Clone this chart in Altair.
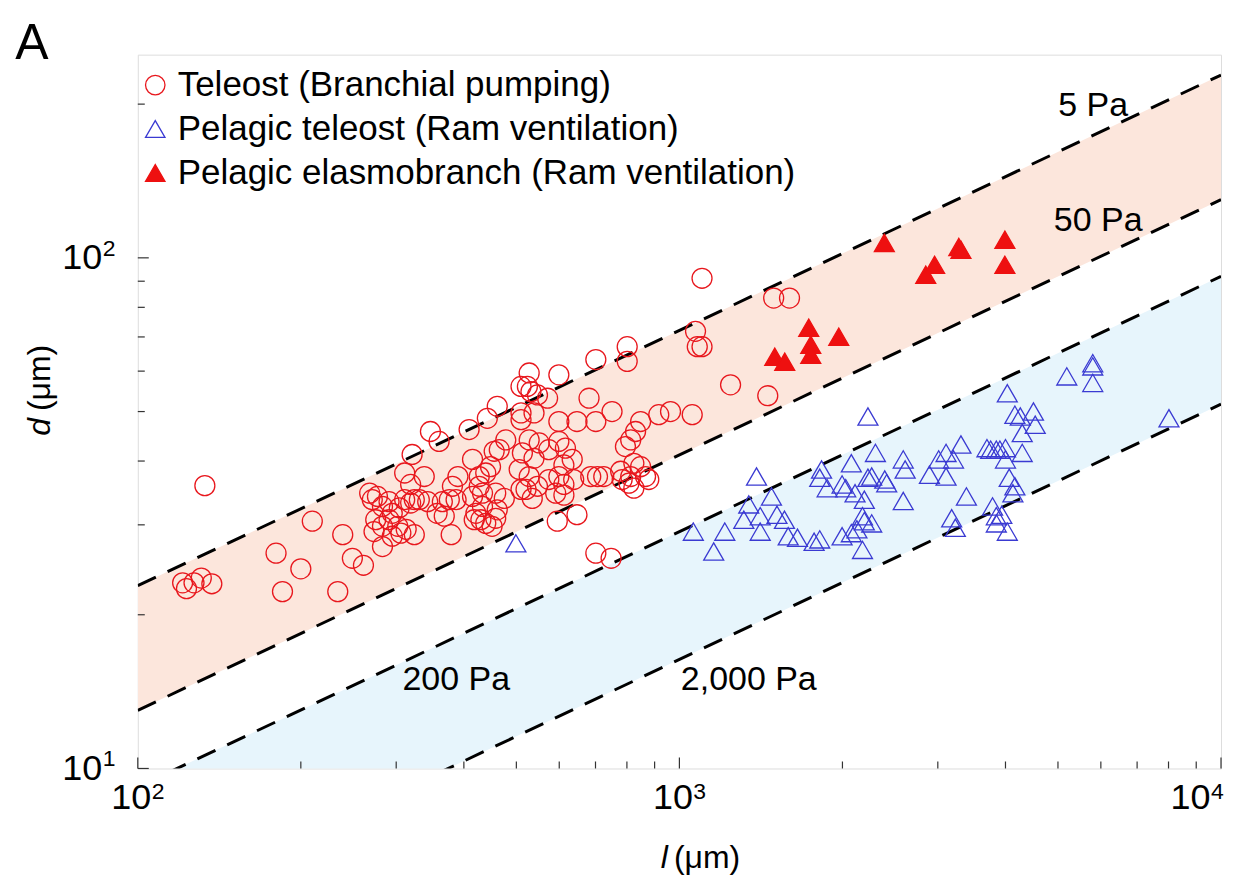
import altair as alt
import pandas as pd

# ---------------- data ----------------
# Teleost (Branchial pumping): open red circles  (l, d in micrometres)
teleost_l = [133, 121, 123, 127, 131, 137, 210, 239, 180, 200, 185, 234, 249, 261,
             268, 271, 277, 283, 291, 295, 304, 311, 319, 324, 275, 283, 291, 302,
             313, 324, 273, 283, 295, 306, 311, 321, 338, 319, 331, 343, 347, 360,
             409, 442, 461, 357, 368, 379, 365, 376, 387, 390, 381, 415, 427, 439,
             427, 433, 448, 415, 421, 430, 439, 451, 458, 418, 433, 458,
             1101, 1493, 1597, 1071, 1079, 1101, 1243, 1456, 801, 801, 701, 599,
             528, 510, 524, 532, 547, 571, 681, 510, 539, 510, 599, 647, 701, 751,
             848, 916, 963, 1056, 830, 813, 795, 478, 465, 455, 528, 551, 513, 539,
             574, 599, 616, 634, 612, 506, 528, 547, 521, 535, 510, 574, 599, 612,
             638, 591, 612, 686, 706, 725, 779, 784, 813, 824, 848, 866, 878, 824,
             807, 595, 647, 701, 748, 475, 461]
teleost_d = [35.8, 23.1, 22.5, 23.1, 23.6, 23.0, 30.5, 28.7, 26.4, 24.6, 22.2, 22.2, 25.8, 25.0,
             34.6, 33.6, 34.1, 32.6, 33.3, 31.6, 32.4, 33.6, 33.1, 33.6, 30.7, 29.8, 30.7, 29.8,
             29.4, 28.7, 29.1, 27.2, 28.5, 28.9, 37.9, 41.2, 37.3, 36.0, 33.6, 33.3, 45.7, 43.7,
             46.1, 48.5, 51.2, 31.6, 31.2, 28.7, 33.3, 33.6, 33.6, 37.3, 35.7, 40.3, 37.3, 37.9,
             35.7, 34.6, 39.0, 34.1, 31.6, 30.7, 30.2, 29.8, 30.9, 30.7, 32.6, 34.6,
             91.2, 83.4, 83.4, 71.8, 67.0, 67.0, 56.4, 53.7, 67.0, 62.7, 63.2, 59.0,
             59.5, 56.0, 56.0, 54.7, 53.9, 53.1, 53.1, 49.7, 49.7, 48.2, 47.8, 47.8, 47.8, 50.0,
             47.8, 49.3, 50.0, 49.3, 45.7, 44.0, 42.7, 44.0, 42.1, 41.8, 44.0, 43.4, 41.5, 40.5,
             42.1, 43.7, 42.4, 40.3, 39.3, 38.5, 37.3, 35.7, 35.2, 33.8, 35.2, 36.8, 37.3, 36.0,
             36.8, 34.6, 34.3, 37.3, 37.3, 37.3, 38.2, 36.8, 37.3, 39.6, 39.0, 37.3, 36.8, 35.4,
             36.2, 30.5, 31.4, 26.4, 25.8, 33.8, 32.1]

# Pelagic teleost (Ram ventilation): open blue triangles
pelagic_l = [1061, 1213, 1157, 1388, 1479, 1410, 1514, 1563, 1410, 1588, 1652, 1773, 1816,
             1830, 1816, 1874, 1997, 2028, 2077, 2110, 2195, 2229, 2265, 2301, 2394, 2414,
             2178, 2195, 2265, 1997, 2077, 2127, 2178, 2229, 2590, 2611, 2590, 2895, 3011,
             3107, 3107, 3207, 3310, 3388, 3182, 3232, 3697, 3756, 3847, 3906, 4000, 4000,
             4295, 4031, 4163, 4260, 4505, 4539, 4295, 4064, 4163, 4128, 3786, 3847, 3938,
             3847, 4031, 5191, 5797, 5797, 5797, 8015, 499, 1343, 1315]
pelagic_d = [29.1, 29.1, 26.6, 37.3, 34.1, 31.2, 31.4, 30.7, 29.1, 28.5, 28.3, 27.8, 28.1,
             38.5, 37.1, 35.4, 36.0, 35.4, 39.6, 34.6, 33.6, 37.1, 37.3, 41.5, 36.8, 36.2,
             31.2, 30.5, 30.2, 28.5, 28.9, 29.4, 26.8, 48.9, 40.3, 38.5, 33.4, 37.6, 40.3,
             41.5, 37.3, 40.3, 43.1, 34.1, 30.9, 29.6, 42.4, 42.1, 42.1, 42.1, 42.4, 40.3,
             41.5, 54.3, 49.3, 48.9, 50.0, 47.1, 45.4, 37.1, 35.7, 34.6, 32.6, 31.2, 31.4,
             30.2, 29.1, 58.6, 62.2, 61.3, 56.9, 48.5, 27.6, 32.9, 30.7]

# Pelagic elasmobranch (Ram ventilation): filled red triangles
elasmo_l = [2390, 2850, 2960, 3280, 3310, 3990, 3990, 1500, 1565, 1733, 1748, 1748, 1969]
elasmo_d = [107, 92.7, 96.9, 105, 103.7, 108.5, 96.9, 64.0, 62.6, 73.0, 67.6, 64.6, 70.1]

series_names = ["Teleost (Branchial pumping)",
                "Pelagic teleost (Ram ventilation)",
                "Pelagic elasmobranch (Ram ventilation)"]

# iso-stress guide lines: d at l = 100 and at l = 10^4
guide_names = ["5 Pa", "50 Pa", "200 Pa", "2,000 Pa"]
guide_l_ends = [100, 10000]
guide_d_start = [22.8, 13.0, 9.2, 5.17]
guide_d_end = [228, 130, 92, 51.7]

x_major = [100, 1000, 10000]
x_exp = ["2", "3", "4"]
x_minor = [200, 300, 400, 500, 600, 700, 800, 900,
           2000, 3000, 4000, 5000, 6000, 7000, 8000, 9000]
y_major = [10, 100]
y_exp = ["1", "2"]
y_minor = [20, 30, 40, 50, 60, 70, 80, 90, 200]

# ---------------- tables ----------------
pts = pd.DataFrame({
    "l": teleost_l + pelagic_l + elasmo_l,
    "d": teleost_d + pelagic_d + elasmo_d,
    "series": [series_names[0]] * len(teleost_l)
              + [series_names[1]] * len(pelagic_l)
              + [series_names[2]] * len(elasmo_l),
})

guides = pd.DataFrame({
    "name": [n for n in guide_names for _ in guide_l_ends],
    "l": guide_l_ends * len(guide_names),
    "d": [v for pair in zip(guide_d_start, guide_d_end) for v in pair],
})

bands = pd.DataFrame({
    "band": ["warm", "warm", "cool", "cool"],
    "l": guide_l_ends * 2,
    "upper": [guide_d_start[0], guide_d_end[0], guide_d_start[2], guide_d_end[2]],
    "lower": [guide_d_start[1], guide_d_end[1], guide_d_start[3], guide_d_end[3]],
})

W, H = 1085, 715
FONT = "Liberation Sans"
TICK_FS = 36
xs = alt.Scale(type="log", domain=[100, 10000], nice=False)
ys = alt.Scale(type="log", domain=[10, 250], nice=False)

X_AX = alt.Axis(values=x_major, labelExpr="'10'", ticks=False, tickSize=0,
                domain=False, grid=False, labelFontSize=TICK_FS, labelFont=FONT,
                labelColor="black", labelPadding=12, labelAlign="right",
                labelOffset=alt.condition("datum.value >= 10000", alt.value(-11), alt.value(13)),
                labelOverlap=False, labelBound=False, labelFlush=False, title=None)
Y_AX = alt.Axis(values=y_major, labelExpr="'10'", ticks=False, tickSize=0,
                domain=False, grid=False, labelFontSize=TICK_FS, labelFont=FONT,
                labelColor="black", labelPadding=36, labelOverlap=False,
                labelBound=False, labelFlush=False, title=None)

def X(field):
    return alt.X(field, scale=xs, axis=X_AX)

def Y(field):
    return alt.Y(field, scale=ys, axis=Y_AX)

band_layer = alt.Chart(bands).mark_area(clip=True, opacity=1).encode(
    x=X("l:Q"),
    y=Y("upper:Q"),
    y2="lower:Q",
    color=alt.Color("band:N", scale=alt.Scale(domain=["warm", "cool"],
                                              range=["#fce6dc", "#e7f5fc"]), legend=None),
    detail="band:N",
)

guide_layer = alt.Chart(guides).mark_line(
    clip=True, color="black", strokeWidth=3, strokeDash=[20, 13]
).encode(
    x=X("l:Q"),
    y=Y("d:Q"),
    detail="name:N",
)

leg = alt.Legend(title=None, orient="none", legendX=0, legendY=13,
                 labelFontSize=35, labelFont=FONT, labelColor="black",
                 symbolSize=380, symbolStrokeWidth=1.3, rowPadding=8,
                 labelOffset=5, padding=0, labelLimit=900)

point_layer = alt.Chart(pts).mark_point(size=400, strokeWidth=1.3, opacity=1, fillOpacity=1).encode(
    x=X("l:Q"),
    y=Y("d:Q"),
    shape=alt.Shape("series:N", scale=alt.Scale(domain=series_names,
                    range=["circle", "triangle-up", "triangle-up"]), legend=leg),
    stroke=alt.Stroke("series:N", scale=alt.Scale(domain=series_names,
                      range=["#e8171d", "#3a3ad2", "#ee1010"]), legend=leg),
    fill=alt.Fill("series:N", scale=alt.Scale(domain=series_names,
                  range=["transparent", "transparent", "#ee1010"]), legend=leg),
    order=alt.Order("series:N", sort="descending"),
)

# inward tick marks
xt_major = alt.Chart(pd.DataFrame({"l": x_major})).mark_rule(color="#333", strokeWidth=1.2).encode(
    x=X("l:Q"), y=alt.value(H), y2=alt.value(H - 11))
xt_minor = alt.Chart(pd.DataFrame({"l": x_minor})).mark_rule(color="#333", strokeWidth=1.2).encode(
    x=X("l:Q"), y=alt.value(H), y2=alt.value(H - 7))
yt_major = alt.Chart(pd.DataFrame({"d": y_major})).mark_rule(color="#333", strokeWidth=1.2).encode(
    y=Y("d:Q"), x=alt.value(0), x2=alt.value(11))
yt_minor = alt.Chart(pd.DataFrame({"d": y_minor})).mark_rule(color="#333", strokeWidth=1.2).encode(
    y=Y("d:Q"), x=alt.value(0), x2=alt.value(7))

# exponents of the tick labels
x_exp_a = alt.Chart(pd.DataFrame({"l": x_major[:2], "e": x_exp[:2]})).mark_text(
    align="left", baseline="alphabetic", fontSize=23, font=FONT, color="black", dx=14
).encode(x=X("l:Q"), y=alt.value(H + 31), text="e:N")
x_exp_b = alt.Chart(pd.DataFrame({"l": x_major[2:], "e": x_exp[2:]})).mark_text(
    align="left", baseline="alphabetic", fontSize=23, font=FONT, color="black", dx=-10
).encode(x=X("l:Q"), y=alt.value(H + 31), text="e:N")
y_exp_layer = alt.Chart(pd.DataFrame({"d": y_major, "e": y_exp})).mark_text(
    align="left", baseline="alphabetic", fontSize=23, font=FONT, color="black", dy=-2
).encode(y=Y("d:Q"), x=alt.value(-35), text="e:N")

def txt(t, px, py, size, **kw):
    return alt.Chart(pd.DataFrame({"t": [t]})).mark_text(
        fontSize=size, font=FONT, color="black", **kw
    ).encode(x=alt.value(px), y=alt.value(py), text="t:N")

labels = [txt("5 Pa", 957, 61, 34, align="center", baseline="alphabetic"),
          txt("50 Pa", 962, 177, 34, align="center", baseline="alphabetic"),
          txt("200 Pa", 319, 636, 34, align="center", baseline="alphabetic"),
          txt("2,000 Pa", 612, 636, 34, align="center", baseline="alphabetic")]

panel = txt("A", -106, 4, 50, align="center", baseline="alphabetic")
xtitle_l = txt("l", 531, 815, 32, align="right", baseline="alphabetic", fontStyle="italic")
xtitle_u = txt("(μm)", 537, 815, 32, align="left", baseline="alphabetic")
ytitle_d = txt("d", -88, 364, 32, align="right", baseline="alphabetic", fontStyle="italic", angle=270)
ytitle_u = txt("(μm)", -88, 357, 32, align="left", baseline="alphabetic", angle=270)

chart = alt.layer(
    band_layer, guide_layer, point_layer,
    xt_major, xt_minor, yt_major, yt_minor,
    x_exp_a, x_exp_b, y_exp_layer, *labels, panel,
    xtitle_l, xtitle_u, ytitle_d, ytitle_u,
).properties(
    width=W, height=H,
    autosize=alt.AutoSizeParams(type="none"),
    padding={"left": 130, "top": 46, "right": 4, "bottom": 115},
).configure_view(
    stroke="#333", strokeWidth=1.5
).configure(font=FONT)

chart.save("out.html", embed_options={"renderer": "svg", "actions": False})
